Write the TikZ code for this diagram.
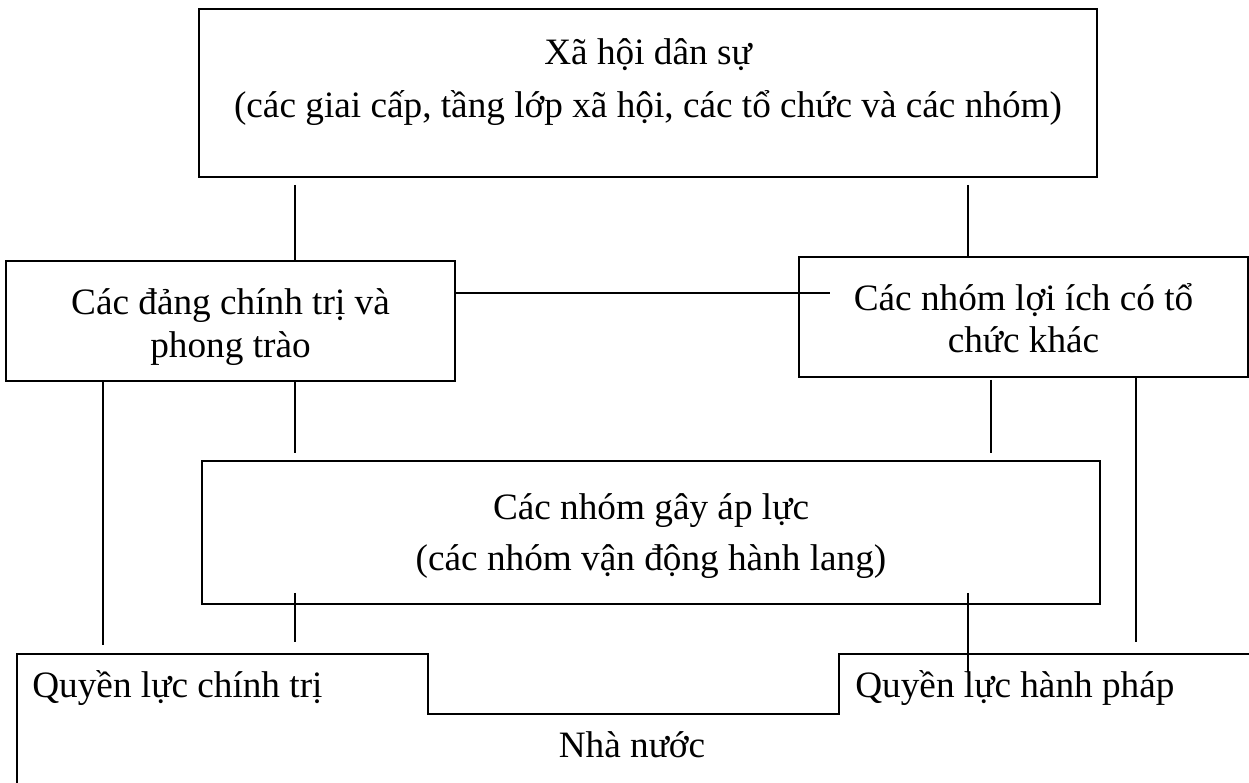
\documentclass[tikz,border=0pt]{standalone}
\usepackage{fontspec}
\setmainfont{Liberation Serif}
\usepackage{tikz}
\usetikzlibrary{calc}
\tikzset{
    every picture/.style={line cap=butt,line join=miter},
    framebox/.style={draw=black,line width=0.9pt,inner sep=0pt,outer sep=0pt},
    boxtext/.style={anchor=base,inner sep=0pt,font=\fontsize{21.2}{25}\selectfont},
    sidetext/.style={boxtext,anchor=base west},
    linkline/.style={draw=black,line width=0.75pt},
    statebdr/.style={draw=black,line width=1.6pt}
}
\begin{document}
\begin{tikzpicture}[x=0.02cm,y=-0.02cm]
  \fill[white] (0,0) rectangle (1249,782);
  \useasboundingbox (0,0) rectangle (1249,782);
  % columns of the vertical links
  \coordinate (colA) at (103,0);
  \coordinate (colB) at (295,0);
  \coordinate (colC) at (968,0);
  \coordinate (colD) at (991,0);
  \coordinate (colE) at (1136,0);
  \coordinate (linkY) at (0,293);

  \node[framebox,minimum width=17.96cm,minimum height=3.36cm] (civil) at (648,93) {};
  \node[boxtext] (civ1) at (648,64) {Xã hội dân sự};
  \node[boxtext] (civ2) at (648,117) {(các giai cấp, tầng lớp xã hội, các tổ chức và các nhóm)};

  \node[framebox,minimum width=8.98cm,minimum height=2.4cm] (party) at (230.5,321) {};
  \node[boxtext] (party1) at (230.5,314) {Các đảng chính trị và};
  \node[boxtext] (party2) at (230.5,357) {phong trào};

  \node[framebox,minimum width=8.98cm,minimum height=2.4cm] (interest) at (1023.5,317) {};
  \node[boxtext] (int1) at (1023.5,310) {Các nhóm lợi ích có tổ};
  \node[boxtext] (int2) at (1023.5,352) {chức khác};

  \node[framebox,minimum width=17.96cm,minimum height=2.86cm] (pressure) at (651,532.5) {};
  \node[boxtext] (press1) at (651,519) {Các nhóm gây áp lực};
  \node[boxtext] (press2) at (651,570) {(các nhóm vận động hành lang)};

  % the state outline runs off the page to the right and below
  \coordinate (st0) at (17,800);
  \coordinate (st1) at (17,654);
  \coordinate (st2) at (428,654);
  \coordinate (st3) at (428,714);
  \coordinate (st4) at (839,714);
  \coordinate (st5) at (839,654);
  \coordinate (st6) at (1270,654);
  \draw[statebdr] (st0)--(st1)--(st2)--(st3)--(st4)--(st5)--(st6);
  \node[sidetext] (polpow) at (32,697) {Quyền lực chính trị};
  \node[sidetext] (exepow) at (855,697) {Quyền lực hành pháp};
  \node[boxtext] (state) at (632,757) {Nhà nước};

  \draw[linkline] ($(civil.south -| colB)+(0,8)$)--(party.north -| colB);
  \draw[linkline] ($(civil.south -| colC)+(0,8)$)--(interest.north -| colC);
  \draw[linkline] (party.east |- linkY)--($(interest.west |- linkY)+(31,0)$);
  \draw[linkline] (party.south -| colA)--($(st1 -| colA)+(0,-9)$);
  \draw[linkline] (party.south -| colB)--($(pressure.north -| colB)+(0,-8)$);
  \draw[linkline] ($(interest.south -| colD)+(0,3)$)--($(pressure.north -| colD)+(0,-8)$);
  \draw[linkline] (interest.south -| colE)--($(st6 -| colE)+(0,-12)$);
  \draw[linkline] ($(pressure.south -| colB)+(0,-11)$)--($(st1 -| colB)+(0,-12)$);
  \draw[linkline] ($(pressure.south -| colC)+(0,-11)$)--($(st5 -| colC)+(0,18)$);
\end{tikzpicture}
\end{document}
